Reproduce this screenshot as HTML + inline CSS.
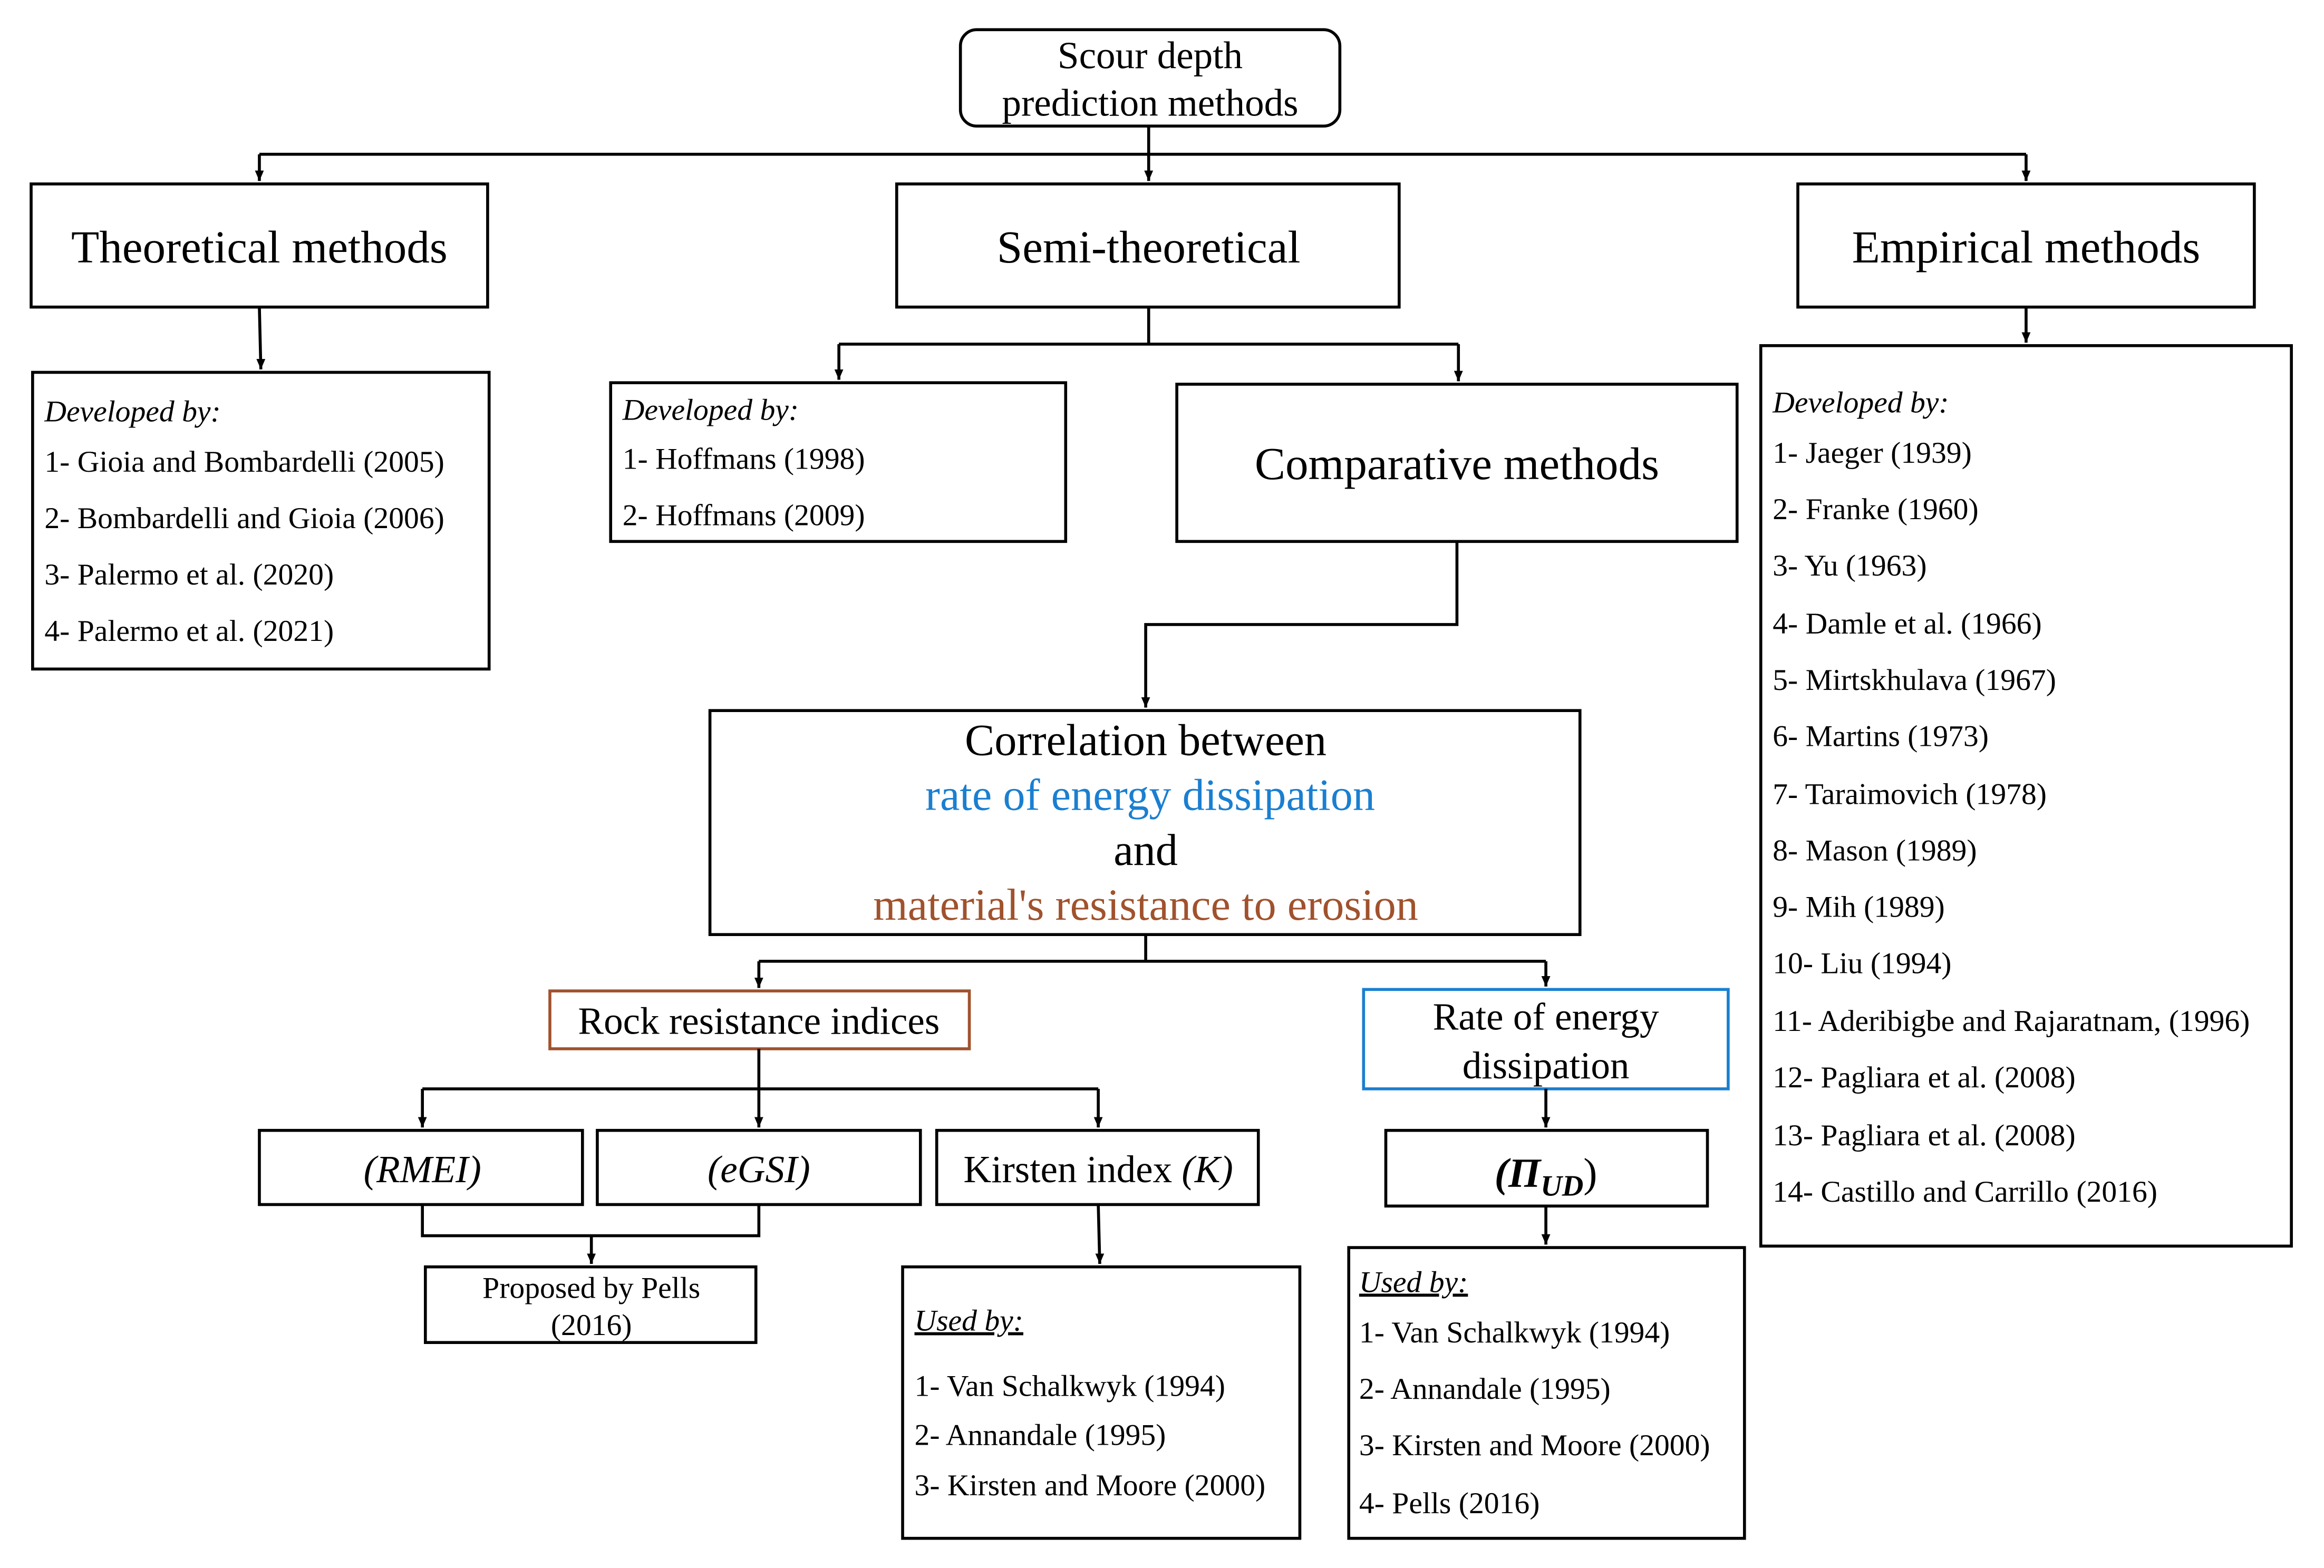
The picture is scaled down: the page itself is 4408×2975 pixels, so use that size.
<!DOCTYPE html>
<html><head><meta charset="utf-8"><style>
html,body{margin:0;padding:0;background:#fff;}
svg{display:block;}
text{font-family:"Liberation Serif","DejaVu Serif","Times New Roman",serif;fill:#000;}
</style></head><body>
<svg width="4408" height="2975" viewBox="0 0 1568 1057" preserveAspectRatio="none" xmlns="http://www.w3.org/2000/svg" font-family="Liberation Serif, serif">
<defs><marker id="a" markerWidth="10" markerHeight="10" refX="4" refY="7" orient="0" markerUnits="userSpaceOnUse"><path d="M1,0 L4,7 L7,0 Z" fill="#000"/></marker></defs>
<g fill="none" stroke="#000" stroke-width="2">
<rect x="648" y="20" width="256" height="65" rx="11"/>
<rect x="21" y="124" width="308" height="83"/>
<rect x="605" y="124" width="339" height="83"/>
<rect x="1213" y="124" width="308" height="83"/>
<rect x="22" y="251" width="308" height="200"/>
<rect x="412" y="258" width="307" height="107"/>
<rect x="794" y="259" width="378" height="106"/>
<rect x="479" y="479" width="587" height="151"/>
<rect x="371" y="668" width="283" height="39" stroke="#a0522d"/>
<rect x="920" y="667" width="246" height="67" stroke="#1a7fd0"/>
<rect x="175" y="762" width="218" height="50"/>
<rect x="403" y="762" width="218" height="50"/>
<rect x="632" y="762" width="217" height="50"/>
<rect x="935" y="762" width="217" height="51"/>
<rect x="287" y="854" width="223" height="51"/>
<rect x="609" y="854" width="268" height="183"/>
<rect x="910" y="841" width="267" height="196"/>
<rect x="1188" y="233" width="358" height="607"/>
<path d="M775,85 V104 M175,104 H1367"/>
<path d="M175,104 V122" marker-end="url(#a)"/>
<path d="M775,104 V122" marker-end="url(#a)"/>
<path d="M1367,104 V122" marker-end="url(#a)"/>
<path d="M175,207 L176,249" marker-end="url(#a)"/>
<path d="M775,207 V232 M566,232 H984"/>
<path d="M566,232 V256" marker-end="url(#a)"/>
<path d="M984,232 V257" marker-end="url(#a)"/>
<path d="M983,365 V421 H773 V477" marker-end="url(#a)"/>
<path d="M773,630 V648 M512,648 H1043"/>
<path d="M512,648 V666" marker-end="url(#a)"/>
<path d="M1043,648 V665" marker-end="url(#a)"/>
<path d="M512,707 V734 M285,734 H741"/>
<path d="M285,734 V760" marker-end="url(#a)"/>
<path d="M512,734 V760" marker-end="url(#a)"/>
<path d="M741,734 V760" marker-end="url(#a)"/>
<path d="M1043,734 V760" marker-end="url(#a)"/>
<path d="M285,812 V833 H512 V812 M399,833 V852" marker-end="url(#a)"/>
<path d="M741,812 L742,852" marker-end="url(#a)"/>
<path d="M1043,813 V839" marker-end="url(#a)"/>
<path d="M1367,207 V231" marker-end="url(#a)"/>
</g>
<g text-anchor="middle">
<text x="776" y="46" font-size="26">Scour depth</text>
<text x="776" y="78" font-size="26">prediction methods</text>
<text x="175" y="177" font-size="31">Theoretical methods</text>
<text x="775" y="177" font-size="31">Semi-theoretical</text>
<text x="1367" y="177" font-size="31">Empirical methods</text>
<text x="983" y="323" font-size="31">Comparative methods</text>
<text x="773" y="509" font-size="30">Correlation between</text>
<text x="776" y="546" font-size="30" style="fill:#1a7fd0">rate of energy dissipation</text>
<text x="773" y="583" font-size="30">and</text>
<text x="773" y="620" font-size="30" style="fill:#a0522d">material's resistance to erosion</text>
<text x="512" y="697" font-size="26">Rock resistance indices</text>
<text x="1043" y="694" font-size="26">Rate of energy</text>
<text x="1043" y="727" font-size="26">dissipation</text>
<text x="285" y="797" font-size="26" font-style="italic">(RMEI)</text>
<text x="512" y="797" font-size="26" font-style="italic">(eGSI)</text>
<text x="741" y="797" font-size="26">Kirsten index <tspan font-style="italic">(K)</tspan></text>
<text x="1043" y="800" font-size="28" font-weight="bold" font-style="italic">(Π<tspan font-size="20" dy="6">UD</tspan><tspan dy="-6" font-weight="normal" font-style="normal">)</tspan></text>
<text x="399" y="875" font-size="20.5">Proposed by Pells</text>
<text x="399" y="900" font-size="20.5">(2016)</text>
</g>
<g font-size="20.5">
<text x="30" y="284" font-style="italic">Developed by:</text>
<text x="30" y="318">1- Gioia and Bombardelli (2005)</text>
<text x="30" y="356">2- Bombardelli and Gioia (2006)</text>
<text x="30" y="394">3- Palermo et al. (2020)</text>
<text x="30" y="432">4- Palermo et al. (2021)</text>
<text x="420" y="283" font-style="italic">Developed by:</text>
<text x="420" y="316">1- Hoffmans (1998)</text>
<text x="420" y="354">2- Hoffmans (2009)</text>
<text x="617" y="897" font-style="italic" text-decoration="underline">Used by:</text>
<text x="617" y="941">1- Van Schalkwyk (1994)</text>
<text x="617" y="974">2- Annandale (1995)</text>
<text x="617" y="1008">3- Kirsten and Moore (2000)</text>
<text x="917" y="871" font-style="italic" text-decoration="underline">Used by:</text>
<text x="917" y="905">1- Van Schalkwyk (1994)</text>
<text x="917" y="943">2- Annandale (1995)</text>
<text x="917" y="981">3- Kirsten and Moore (2000)</text>
<text x="917" y="1020">4- Pells (2016)</text>
<text x="1196" y="278" font-style="italic">Developed by:</text>
<text x="1196" y="312">1- Jaeger (1939)</text>
<text x="1196" y="350">2- Franke (1960)</text>
<text x="1196" y="388">3- Yu (1963)</text>
<text x="1196" y="427">4- Damle et al. (1966)</text>
<text x="1196" y="465">5- Mirtskhulava (1967)</text>
<text x="1196" y="503">6- Martins (1973)</text>
<text x="1196" y="542">7- Taraimovich (1978)</text>
<text x="1196" y="580">8- Mason (1989)</text>
<text x="1196" y="618">9- Mih (1989)</text>
<text x="1196" y="656">10- Liu (1994)</text>
<text x="1196" y="695">11- Aderibigbe and Rajaratnam, (1996)</text>
<text x="1196" y="733">12- Pagliara et al. (2008)</text>
<text x="1196" y="772">13- Pagliara et al. (2008)</text>
<text x="1196" y="810">14- Castillo and Carrillo (2016)</text>
</g>
</svg>
</body></html>
